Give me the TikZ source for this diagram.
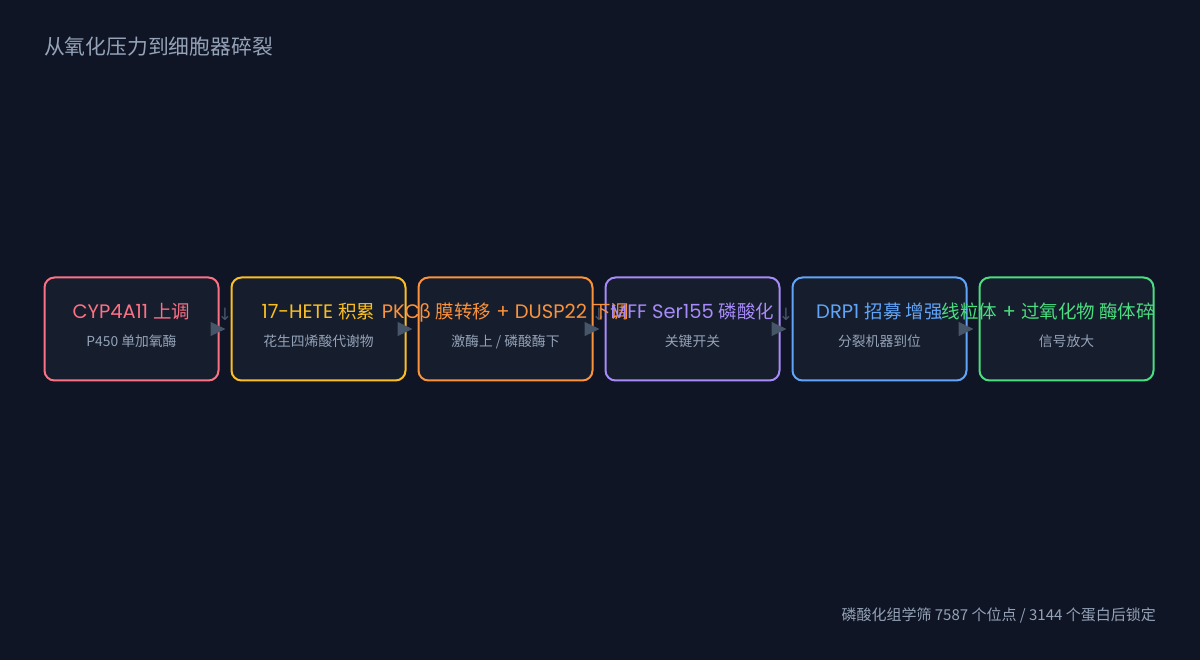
\documentclass[tikz,border=0pt]{standalone}
\usepackage{fontspec}
\setmainfont{Poppins}
\newfontfamily\cjk{Noto Sans CJK SC}
\newfontfamily\dejavu{DejaVu Sans}
\usetikzlibrary{arrows.meta,calc}
\definecolor{bg}{HTML}{0F1524}
\definecolor{boxfill}{HTML}{161D2C}
\definecolor{muted}{HTML}{94A3B8}
\definecolor{arrowc}{HTML}{475569}
\definecolor{cA}{HTML}{FB7185}
\definecolor{cB}{HTML}{FBBF24}
\definecolor{cC}{HTML}{FB923C}
\definecolor{cD}{HTML}{A78BFA}
\definecolor{cE}{HTML}{60A5FA}
\definecolor{cF}{HTML}{4ADE80}
\newcommand{\zh}[1]{{\cjk\fontsize{18.5}{20}\selectfont #1}}
\tikzset{
  stepbox/.style={draw=#1, line width=2pt, rounded corners=10pt, fill=boxfill,
    minimum width=174pt, minimum height=103pt, inner sep=0pt},
  ttl/.style={text=#1, font=\fontsize{19.5}{20}\selectfont, anchor=base, inner sep=0pt},
  sub/.style={text=muted, font=\cjk\fontsize{13.8}{15}\selectfont, anchor=base, inner sep=0pt},
  conn/.style={draw=arrowc, fill=arrowc, line width=1pt, -{Triangle[length=15pt,width=14pt]}},
  downlbl/.style={text=arrowc, font=\dejavu\fontsize{17}{18}\selectfont, inner sep=0pt}
}
\begin{document}
\begin{tikzpicture}[x=1pt,y=-1pt]
\fill[bg] (0,0) rectangle (1200,660);
\useasboundingbox (0,0) rectangle (1200,660);

\node[text=muted, font=\cjk\fontsize{20.8}{22}\selectfont, anchor=base west, inner sep=0pt] (title) at (44,55) {从氧化压力到细胞器碎裂};

\node[stepbox=cA] (b1) at (131.5,329) {};
\node[stepbox=cB] (b2) at (318.5,329) {};
\node[stepbox=cC] (b3) at (505.5,329) {};
\node[stepbox=cD] (b4) at (692.5,329) {};
\node[stepbox=cE] (b5) at (879.5,329) {};
\node[stepbox=cF] (b6) at (1066.5,329) {};

\foreach \a/\b in {b1/b2,b2/b3,b3/b4,b4/b5,b5/b6}{
  \draw[conn] ($(\a.east)+(-8,0)$) -- ($(\b.west)+(-5,0)$);
}
\node[downlbl] (d1) at ($(b1.east)!0.5!(b2.west)+(0,-15)$) {↓};
\node[downlbl] (d3) at ($(b3.east)!0.5!(b4.west)+(0,-15)$) {↓};
\node[downlbl] (d4) at ($(b4.east)!0.5!(b5.west)+(0,-15)$) {↓};

\node[ttl=cA] (t1) at (131.5,318.5) {CYP4A11 \zh{上调}};
\node[ttl=cB] (t2) at (318.5,318.5) {17-HETE \zh{积累}};
\node[ttl=cC] (t3) at (505.5,318.5) {PKC\zh{β 膜转移} + DUSP22 \zh{下调}};
\node[ttl=cD] (t4) at (692.5,318.5) {MFF Ser155 \zh{磷酸化}};
\node[ttl=cE] (t5) at (879.5,318.5) {DRP1 \zh{招募 增强}};
\node[ttl=cF, anchor=base east] (t6) at (1155,318.5) {\zh{线粒体} + \zh{过氧化物 酶体碎}};

\node[sub] (s1) at (131.5,347) {P450 单加氧酶};
\node[sub] (s2) at (318.5,347) {花生四烯酸代谢物};
\node[sub] (s3) at (505.5,347) {激酶上 / 磷酸酶下};
\node[sub] (s4) at (692.5,347) {关键开关};
\node[sub] (s5) at (879.5,347) {分裂机器到位};
\node[sub] (s6) at (1066.5,347) {信号放大};

\node[text=muted, font=\cjk\fontsize{15}{16}\selectfont, anchor=base east, inner sep=0pt] (foot) at (1156,620) {磷酸化组学筛 7587 个位点 / 3144 个蛋白后锁定};
\end{tikzpicture}
\end{document}
